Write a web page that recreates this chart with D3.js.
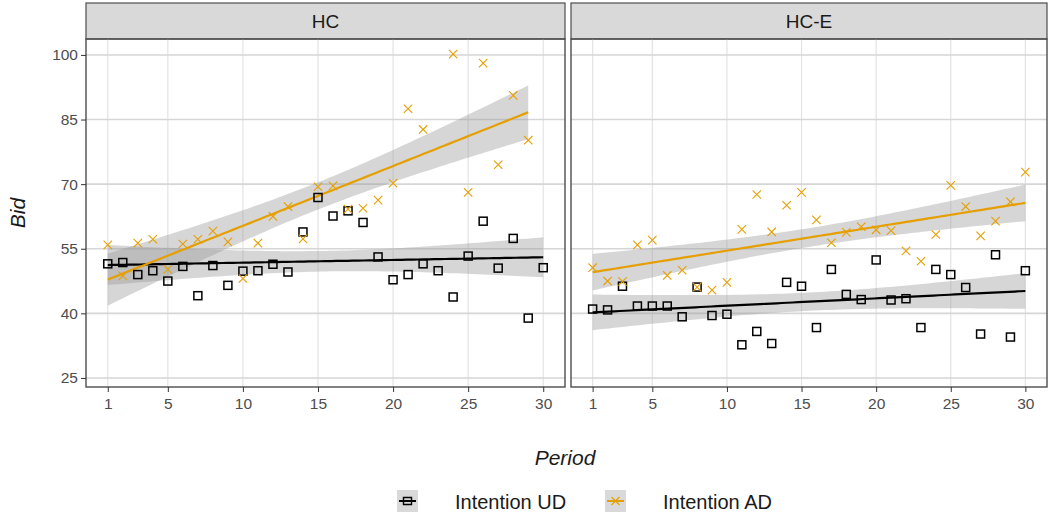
<!DOCTYPE html>
<html>
<head>
<meta charset="utf-8">
<script src="https://cdn.jsdelivr.net/npm/d3@7"></script>
<style>
  body { margin: 0; background: #fff; }
  svg text { font-family: "Liberation Sans", Arial, sans-serif; }
</style>
</head>
<body>
<script>
// periods 1..30
var periods = d3.range(1, 31);
var panels = ["HC", "HC-E"];
var yTicks = [25, 40, 55, 70, 85, 100];
var xTicks = [1, 5, 10, 15, 20, 25, 30];

// bids (null = no point)
var hcUD = [51.5, 51.8, 49.0, 49.9, 47.5, 50.9, 44.1, 51.1, 46.5, 49.8,
            49.9, 51.4, 49.6, 58.9, 66.9, 62.6, 63.8, 61.1, 53.1, 47.8,
            49.0, 51.5, 49.9, 43.8, 53.3, 61.4, 50.5, 57.4, 38.9, 50.6];
var hcAD = [55.9, 48.7, 56.3, 57.2, 50.2, 56.1, 57.2, 59.1, 56.6, 48.1,
            56.3, 62.5, 64.8, 57.3, 69.4, 69.6, 64.2, 64.4, 66.3, 70.2,
            87.5, 82.7, null, 100.2, 68.1, 98.1, 74.5, 90.6, 80.2, null];
var hceUD = [41.0, 40.8, 46.3, 41.7, 41.7, 41.7, 39.2, 46.1, 39.5, 39.8,
             32.7, 35.8, 33.0, 47.2, 46.3, 36.7, 50.2, 44.4, 43.2, 52.4,
             43.1, 43.4, 36.7, 50.2, 49.0, 46.0, 35.2, 53.6, 34.5, 49.9];
var hceAD = [50.6, 47.5, 47.4, 55.9, 57.0, 48.8, 50.0, 46.1, 45.4, 47.2,
             59.5, 67.6, 58.9, 65.1, 68.1, 61.7, 56.4, 58.8, 60.1, 59.4,
             59.2, 54.5, 52.1, 58.3, 69.7, 64.8, 58.0, 61.4, 65.9, 72.8];

var udColor = "#000000", adColor = "#E69F00";

var width = 1048, height = 516;
var panelTop = 39, panelBottom = 387, stripTop = 3;
var panelX = [[86, 565], [571, 1047]];

var svg = d3.select("body").append("svg")
  .attr("width", width)
  .attr("height", height);

var y = d3.scaleLinear().domain([22.9, 103.7]).range([panelBottom, panelTop]);

function tQuant(df) {
  // t 0.975 quantile, close enough for df around 25-30
  return 1.96 + 2.4 / df + 3.0 / (df * df);
}

function fitLm(xs, ys) {
  var pts = xs.map(function(x, i) { return [x, ys[i]]; })
    .filter(function(p) { return p[1] != null; });
  var n = pts.length;
  var mx = d3.mean(pts, function(p) { return p[0]; });
  var my = d3.mean(pts, function(p) { return p[1]; });
  var sxx = d3.sum(pts, function(p) { return (p[0] - mx) * (p[0] - mx); });
  var sxy = d3.sum(pts, function(p) { return (p[0] - mx) * (p[1] - my); });
  var b = sxy / sxx, a = my - b * mx;
  var rss = d3.sum(pts, function(p) { var r = p[1] - (a + b * p[0]); return r * r; });
  var s = Math.sqrt(rss / (n - 2));
  var t = tQuant(n - 2);
  var x0 = d3.min(pts, function(p) { return p[0]; });
  var x1 = d3.max(pts, function(p) { return p[0]; });
  return d3.range(0, 81).map(function(i) {
    var xv = x0 + (x1 - x0) * i / 80;
    var fit = a + b * xv;
    var se = s * Math.sqrt(1 / n + (xv - mx) * (xv - mx) / sxx);
    return {x: xv, fit: fit, lo: fit - t * se, hi: fit + t * se};
  });
}

var data = [
  [{vals: hcUD, color: udColor, shape: "square"}, {vals: hcAD, color: adColor, shape: "cross"}],
  [{vals: hceUD, color: udColor, shape: "square"}, {vals: hceAD, color: adColor, shape: "cross"}]
];

panels.forEach(function(name, pi) {
  var x = d3.scaleLinear().domain([-0.45, 31.45]).range(panelX[pi]);
  var g = svg.append("g");
  var pw = panelX[pi][1] - panelX[pi][0];

  // strip
  g.append("rect")
    .attr("x", panelX[pi][0]).attr("y", stripTop)
    .attr("width", pw).attr("height", panelTop - stripTop)
    .style("fill", "#d9d9d9").style("stroke", "#4d4d4d").style("stroke-width", 1.2);
  g.append("text")
    .attr("x", (panelX[pi][0] + panelX[pi][1]) / 2).attr("y", 28)
    .attr("text-anchor", "middle")
    .style("font-size", "19px").style("fill", "#1a1a1a")
    .text(name);

  // grid
  g.selectAll(".vg").data(xTicks).enter().append("line")
    .attr("x1", function(d) { return x(d); }).attr("x2", function(d) { return x(d); })
    .attr("y1", panelTop).attr("y2", panelBottom)
    .style("stroke", "#e3e3e3").style("stroke-width", 1.2);
  g.selectAll(".hg").data(yTicks).enter().append("line")
    .attr("x1", panelX[pi][0]).attr("x2", panelX[pi][1])
    .attr("y1", function(d) { return y(d); }).attr("y2", function(d) { return y(d); })
    .style("stroke", "#d6d6d6").style("stroke-width", 1.6);

  // bands first, then lines
  var fits = data[pi].map(function(s) { return fitLm(periods, s.vals); });
  fits.forEach(function(f) {
    g.append("path").datum(f)
      .attr("d", d3.area()
        .x(function(d) { return x(d.x); })
        .y0(function(d) { return y(d.lo); })
        .y1(function(d) { return y(d.hi); }))
      .style("fill", "#999999").style("opacity", 0.4);
  });
  fits.forEach(function(f, si) {
    g.append("path").datum(f)
      .attr("d", d3.line()
        .x(function(d) { return x(d.x); })
        .y(function(d) { return y(d.fit); }))
      .style("fill", "none")
      .style("stroke", data[pi][si].color)
      .style("stroke-width", 2.2);
  });

  // points
  data[pi].forEach(function(s) {
    var pts = periods.map(function(p, i) { return {p: p, v: s.vals[i]}; })
      .filter(function(d) { return d.v != null; });
    if (s.shape === "square") {
      g.selectAll(null).data(pts).enter().append("rect")
        .attr("x", function(d) { return x(d.p) - 4; })
        .attr("y", function(d) { return y(d.v) - 4; })
        .attr("width", 8).attr("height", 8)
        .style("fill", "none").style("stroke", s.color).style("stroke-width", 1.5);
    } else {
      g.selectAll(null).data(pts).enter().append("path")
        .attr("d", function(d) {
          var cx = x(d.p), cy = y(d.v), r = 4.2;
          return "M" + (cx - r) + "," + (cy - r) + "L" + (cx + r) + "," + (cy + r) +
                 "M" + (cx - r) + "," + (cy + r) + "L" + (cx + r) + "," + (cy - r);
        })
        .style("fill", "none").style("stroke", s.color).style("stroke-width", 1.1);
    }
  });

  // panel border
  g.append("rect")
    .attr("x", panelX[pi][0]).attr("y", panelTop)
    .attr("width", pw).attr("height", panelBottom - panelTop)
    .style("fill", "none").style("stroke", "#4d4d4d").style("stroke-width", 1.4);

  // x axis
  var xa = g.append("g")
    .attr("transform", "translate(0," + panelBottom + ")")
    .call(d3.axisBottom(x).tickValues(xTicks).tickSize(5).tickPadding(6));
  xa.select(".domain").remove();
  xa.selectAll("line").style("stroke", "#333");
  xa.selectAll("text").style("font-size", "15.5px").style("fill", "#4d4d4d");
});

// y axis (left panel only)
var ya = svg.append("g")
  .attr("transform", "translate(" + panelX[0][0] + ",0)")
  .call(d3.axisLeft(y).tickValues(yTicks).tickSize(5).tickPadding(3));
ya.select(".domain").remove();
ya.selectAll("line").style("stroke", "#333");
ya.selectAll("text").style("font-size", "15.5px").style("fill", "#4d4d4d");

// axis titles
svg.append("text")
  .attr("transform", "translate(25," + (panelTop + panelBottom) / 2 + ") rotate(-90)")
  .attr("text-anchor", "middle")
  .style("font-size", "21px").style("font-style", "italic").style("fill", "#1a1a1a")
  .text("Bid");
svg.append("text")
  .attr("x", 565).attr("y", 465)
  .attr("text-anchor", "middle")
  .style("font-size", "21px").style("font-style", "italic").style("fill", "#1a1a1a")
  .text("Period");

// legend
var legendItems = [
  {label: "Intention UD", color: udColor, shape: "square", kx: 397, tx: 455},
  {label: "Intention AD", color: adColor, shape: "cross", kx: 605, tx: 663}
];
var lg = svg.selectAll(".leg").data(legendItems).enter().append("g");
lg.append("rect")
  .attr("x", function(d) { return d.kx; }).attr("y", 490)
  .attr("width", 21).attr("height", 22)
  .style("fill", "#d9d9d9");
lg.append("line")
  .attr("x1", function(d) { return d.kx + 2; }).attr("x2", function(d) { return d.kx + 19; })
  .attr("y1", 501).attr("y2", 501)
  .style("stroke", function(d) { return d.color; }).style("stroke-width", 2);
lg.append("path")
  .attr("d", function(d) {
    var cx = d.kx + 10.5, cy = 501;
    if (d.shape === "square") return "M" + (cx - 4) + "," + (cy - 3.5) + "h8v7h-8z";
    return "M" + (cx - 4) + "," + (cy - 4) + "L" + (cx + 4) + "," + (cy + 4) +
           "M" + (cx - 4) + "," + (cy + 4) + "L" + (cx + 4) + "," + (cy - 4);
  })
  .style("fill", "none")
  .style("stroke", function(d) { return d.color; })
  .style("stroke-width", function(d) { return d.shape === "square" ? 1.4 : 1.1; });
lg.append("text")
  .attr("x", function(d) { return d.tx; }).attr("y", 509)
  .style("font-size", "20px").style("fill", "#1a1a1a")
  .text(function(d) { return d.label; });
</script>
</body>
</html>
